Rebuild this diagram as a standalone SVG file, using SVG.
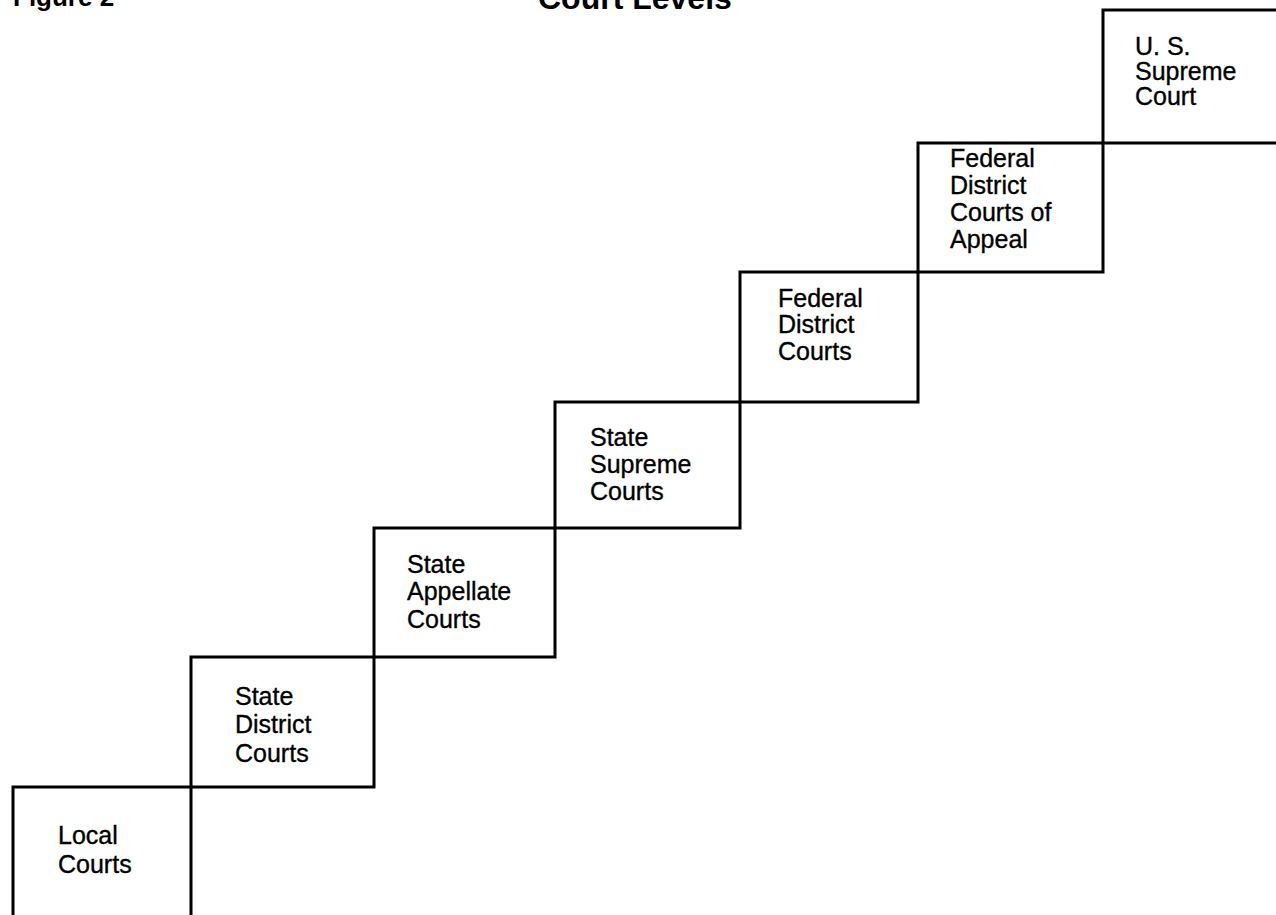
<svg xmlns="http://www.w3.org/2000/svg" width="1276" height="915" viewBox="0 0 1276 915">
  <style>
    .step { fill: none; stroke: #000; stroke-width: 3; }
    .label { font-family: "Liberation Sans", Arial, sans-serif; font-size: 25px; fill: #000; stroke: #000; stroke-width: 0.35px; }
    .title { font-family: "Liberation Sans", Arial, sans-serif; font-weight: bold; fill: #000; }
  </style>
  <rect width="1276" height="915" fill="#fff"/>

  <!-- Heading, partly above the top edge -->
  <text class="title" x="13" y="6" font-size="26">Figure 2</text>
  <text class="title" x="538" y="9" font-size="32">Court Levels</text>

  <!-- Staircase of court levels, lowest at bottom-left -->
  <g id="local-courts">
    <rect class="step" x="13" y="787" width="178" height="140"/>
    <text class="label"><tspan x="58" y="844">Local</tspan><tspan x="58" y="873">Courts</tspan></text>
  </g>
  <g id="state-district-courts">
    <rect class="step" x="191" y="657" width="183" height="130"/>
    <text class="label"><tspan x="235" y="705">State</tspan><tspan x="235" y="733">District</tspan><tspan x="235" y="762">Courts</tspan></text>
  </g>
  <g id="state-appellate-courts">
    <rect class="step" x="374" y="528" width="181" height="129"/>
    <text class="label"><tspan x="407" y="573">State</tspan><tspan x="407" y="600">Appellate</tspan><tspan x="407" y="628">Courts</tspan></text>
  </g>
  <g id="state-supreme-courts">
    <rect class="step" x="555" y="402" width="185" height="126"/>
    <text class="label"><tspan x="590" y="446">State</tspan><tspan x="590" y="473">Supreme</tspan><tspan x="590" y="500">Courts</tspan></text>
  </g>
  <g id="federal-district-courts">
    <rect class="step" x="740" y="272" width="178" height="130"/>
    <text class="label"><tspan x="778" y="307">Federal</tspan><tspan x="778" y="333">District</tspan><tspan x="778" y="360">Courts</tspan></text>
  </g>
  <g id="federal-courts-of-appeal">
    <rect class="step" x="918" y="143" width="185" height="129"/>
    <text class="label"><tspan x="950" y="167">Federal</tspan><tspan x="950" y="194">District</tspan><tspan x="950" y="221">Courts of</tspan><tspan x="950" y="248">Appeal</tspan></text>
  </g>
  <g id="us-supreme-court">
    <rect class="step" x="1103" y="10" width="190" height="133"/>
    <text class="label"><tspan x="1135" y="55">U. S.</tspan><tspan x="1135" y="80">Supreme</tspan><tspan x="1135" y="105">Court</tspan></text>
  </g>
</svg>
